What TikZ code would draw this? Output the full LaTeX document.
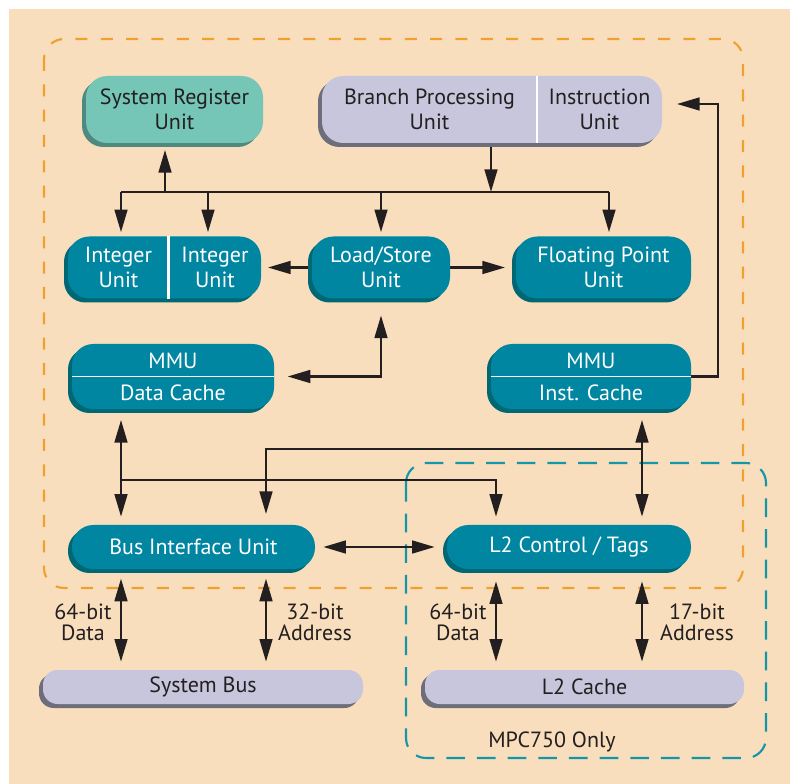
\documentclass[tikz,border=0pt]{standalone}
\usepackage{fontspec}
\setmainfont{PT Sans}
\usetikzlibrary{arrows.meta,shadows,calc}
\definecolor{beige}{RGB}{248,222,188}
\definecolor{tealM}{RGB}{0,134,160}
\definecolor{tealD}{RGB}{0,104,116}
\definecolor{mintM}{RGB}{118,198,184}
\definecolor{mintD}{RGB}{78,138,128}
\definecolor{lavM}{RGB}{200,198,220}
\definecolor{lavD}{RGB}{110,110,122}
\definecolor{orangeD}{RGB}{240,160,48}
\definecolor{blueD}{RGB}{20,150,170}
\definecolor{ink}{RGB}{35,31,32}
\pgfdeclarelayer{bglayer}
\pgfdeclarelayer{midlayer}
\pgfsetlayers{bglayer,midlayer,main}
\begin{document}
\begin{tikzpicture}[x=0.75pt,y=-0.75pt,
  box/.style={rounded corners=16pt, inner sep=0pt, align=center, font=\fontsize{16.5}{19}\selectfont},
  tealbox/.style={box, fill=tealM, text=white, drop shadow={shadow xshift=-3pt,shadow yshift=-3pt,opacity=1,fill=tealD}},
  mintbox/.style={box, fill=mintM, text=ink, drop shadow={shadow xshift=-3pt,shadow yshift=-3pt,opacity=1,fill=mintD}},
  lavbox/.style={box, fill=lavM, text=ink, drop shadow={shadow xshift=-3pt,shadow yshift=-3pt,opacity=1,fill=lavD}},
  lbl/.style={inner sep=0pt, align=center, font=\fontsize{16.5}{19}\selectfont},
  wlbl/.style={lbl, text=white},
  klbl/.style={lbl, text=ink},
  side/.style={inner sep=0pt, align=center, text=ink, font=\fontsize{16.5}{16}\selectfont},
  conn/.style={draw=ink, line width=1.9pt},
  arr/.style={conn, -{Triangle[length=17pt,width=9.5pt]}},
  dbl/.style={conn, {Triangle[length=17pt,width=9.5pt]}-{Triangle[length=17pt,width=9.5pt]}},
  divider/.style={draw=white, line width=1.6pt},
  hdivider/.style={draw=white, line width=1.1pt},
  orangebox/.style={draw=orangeD, line width=1.6pt, dash pattern=on 9pt off 10pt, rounded corners=15pt},
  bluebox/.style={draw=blueD, line width=1.6pt, dash pattern=on 14pt off 9pt, rounded corners=15pt}
]
\useasboundingbox (0,0) rectangle (790,784);
\begin{pgfonlayer}{bglayer}
\fill[beige] (9,9) rectangle (790,784);
\draw[orangebox] (44,39) rectangle (743,588);
\draw[bluebox] (406,463) rectangle (766,758);
\end{pgfonlayer}

% boxes
\node[mintbox, minimum width=132.75pt, minimum height=50.25pt] (sru) at (174.5,109.5) {System Register\\Unit};
\node[lavbox, minimum width=255pt, minimum height=50.25pt] (bpu) at (492,109.5) {};
\node[klbl] (bpuT) at (429.5,109.5) {Branch Processing\\Unit};
\node[klbl] (iuT) at (599.5,109.5) {Instruction\\Unit};
\coordinate (xdivB) at (537,0);
\draw[divider] (bpu.north -| xdivB) -- (bpu.south -| xdivB);

\node[tealbox, minimum width=144.75pt, minimum height=46.5pt] (int) at (164.5,267.5) {};
\node[wlbl] (intA) at (118.5,267.5) {Integer\\Unit};
\node[wlbl] (intB) at (215,267.5) {Integer\\Unit};
\coordinate (xdivI) at (168.5,0);
\draw[divider] (int.north -| xdivI) -- (int.south -| xdivI);

\node[tealbox, minimum width=103.5pt, minimum height=46.5pt] (ls) at (381,267.5) {Load/Store\\Unit};
\node[tealbox, minimum width=131.25pt, minimum height=46.5pt] (fp) at (603.5,267.5) {Floating Point\\Unit};

\node[tealbox, minimum width=151.5pt, minimum height=48.75pt] (mmud) at (173,376.5) {};
\node[wlbl] (mmudA) at (173,361) {MMU};
\node[wlbl] (mmudB) at (173,392.5) {Data Cache};
\draw[hdivider] (mmud.west) -- (mmud.east);

\node[tealbox, minimum width=150pt, minimum height=48.75pt] (mmui) at (591,376.5) {};
\node[wlbl] (mmuiA) at (591,361) {MMU};
\node[wlbl] (mmuiB) at (591,392.5) {Inst. Cache};
\draw[hdivider] (mmui.west) -- (mmui.east);

\node[tealbox, minimum width=182.25pt, minimum height=33pt] (biu) at (193.5,547) {Bus Interface Unit};
\node[tealbox, minimum width=183pt, minimum height=33pt] (l2c) at (569,547) {L2 Control / Tags};
\node[lavbox, rounded corners=11pt, minimum width=240pt, minimum height=25.5pt] (sb) at (203,687) {System Bus};
\node[lavbox, rounded corners=11pt, minimum width=239.25pt, minimum height=25.5pt] (l2) at (584.5,687) {L2 Cache};

\begin{pgfonlayer}{midlayer}
% top distribution bus
\coordinate (bL) at (121,192);
\coordinate (bSRU) at (165,192);
\coordinate (bI2) at (208,192);
\coordinate (bLS) at (381,192);
\coordinate (bBPU) at (491,192);
\coordinate (bR) at (609,192);
\draw[conn] (bL) -- (bR);
\draw[arr] (bpu.south -| bBPU) -- (bBPU);
\draw[arr, shorten >=5pt] (bSRU) -- (sru.south -| bSRU);
\draw[arr, shorten >=3pt] (bL) -- (int.north -| bL);
\draw[arr, shorten >=3pt] (bI2) -- (int.north -| bI2);
\draw[arr, shorten >=3pt] (bLS) -- (ls.north -| bLS);
\draw[arr, shorten >=3pt] (bR) -- (fp.north -| bR);

% load/store links
\draw[arr, shorten >=5pt] (ls.west) -- (int.east);
\draw[arr, shorten >=8pt] (ls.east) -- (fp.west);
\draw[dbl, shorten <=12.5pt, shorten >=10pt] (ls.south) |- (mmud.east);

% inst cache to instruction unit
\coordinate (ib1) at (718,376.5);
\coordinate (ib2) at (718,104);
\draw[arr, shorten >=11pt] (mmui.east) -- (ib1) -- (ib2) -- (bpu.east |- ib2);

% caches to bus interface / L2
\coordinate (xA) at (121,0);
\coordinate (xB) at (266,0);
\coordinate (xC) at (496,0);
\coordinate (xD) at (642,0);
\coordinate (j1) at (121,480);
\coordinate (j2) at (642,449);
\draw[dbl, shorten <=8pt, shorten >=6pt] (mmud.south -| xA) -- (biu.north -| xA);
\draw[arr, shorten >=6pt] (j1) -| (l2c.north -| xC);
\draw[arr, shorten >=8pt] (j2) -| (biu.north -| xB);
\draw[dbl, shorten <=8pt, shorten >=6pt] (mmui.south -| xD) -- (l2c.north -| xD);
\draw[dbl, shorten <=6pt, shorten >=9pt] (biu.east) -- (l2c.west);

% external buses
\draw[dbl, shorten <=7pt, shorten >=6pt] (biu.south -| xA) -- (sb.north -| xA);
\draw[dbl, shorten <=7pt, shorten >=6pt] (biu.south -| xB) -- (sb.north -| xB);
\draw[dbl, shorten <=9pt, shorten >=6pt] (l2c.south -| xC) -- (l2.north -| xC);
\draw[dbl, shorten <=9pt, shorten >=6pt] (l2c.south -| xD) -- (l2.north -| xD);
\end{pgfonlayer}

% labels
\node[side] (lab1) at (83,622.5) {64-bit\\Data};
\node[side] (lab2) at (315,622.5) {32-bit\\Address};
\node[side] (lab3) at (458,622.5) {64-bit\\Data};
\node[side] (lab4) at (697,622.5) {17-bit\\Address};
\node[side] (lab5) at (552,742) {MPC750 Only};
\end{tikzpicture}
\end{document}
